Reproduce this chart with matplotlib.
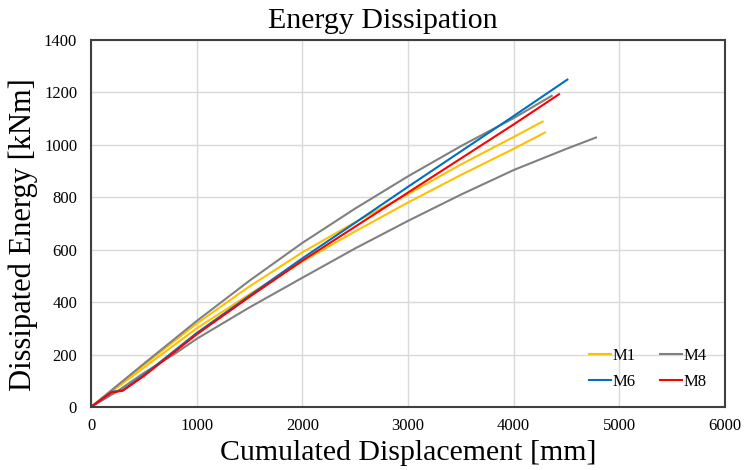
import matplotlib
matplotlib.use("Agg")
import matplotlib.pyplot as plt

# cumulated displacement [mm] and dissipated energy [kNm], two runs for M1 and M4
m1a_x = [0, 250, 500, 1000, 1500, 2000, 2500, 3000, 3500, 4000, 4274]
m1a_e = [0, 80, 160, 318, 460, 590, 705, 812, 925, 1030, 1089]
m1b_x = [0, 250, 500, 1000, 1500, 2000, 2500, 3000, 3500, 4000, 4296]
m1b_e = [0, 75, 150, 300, 430, 555, 670, 780, 885, 985, 1047]

m4a_x = [0, 500, 1000, 1500, 2000, 2500, 3000, 3500, 4000, 4360]
m4a_e = [0, 165, 328, 482, 626, 757, 880, 995, 1102, 1187]
m4b_x = [0, 250, 500, 800, 1000, 1500, 2000, 2500, 3000, 3500, 4000, 4500, 4779]
m4b_e = [0, 60, 130, 205, 260, 380, 493, 605, 710, 810, 904, 985, 1028]

m6_x = [0, 200, 300, 500, 1000, 1500, 2000, 2500, 3000, 3500, 4000, 4508]
m6_e = [0, 58, 64, 122, 282, 425, 567, 703, 840, 975, 1110, 1249]

m8_x = [0, 190, 300, 500, 1000, 1500, 2000, 2500, 3000, 3500, 4000, 4429]
m8_e = [0, 55, 62, 118, 277, 420, 558, 688, 818, 948, 1078, 1193]

x_ticks = [0, 1000, 2000, 3000, 4000, 5000, 6000]
y_ticks = [0, 200, 400, 600, 800, 1000, 1200, 1400]

plt.rcParams['font.family'] = ['Liberation Serif', 'DejaVu Serif']

fig = plt.figure(figsize=(7.45, 4.70), dpi=100)
ax = fig.add_axes([91 / 745, 1 - 407 / 470, 634 / 745, 367 / 470])

lw = 1.5
l1, = ax.plot(m1a_x, m1a_e, color='#FFC000', lw=lw, label='M1')
ax.plot(m1b_x, m1b_e, color='#FFC000', lw=lw)
l4, = ax.plot(m4a_x, m4a_e, color='#808080', lw=lw, label='M4')
ax.plot(m4b_x, m4b_e, color='#808080', lw=lw)
l6, = ax.plot(m6_x, m6_e, color='#0070C0', lw=lw, label='M6')
l8, = ax.plot(m8_x, m8_e, color='#FF0000', lw=lw, label='M8')

ax.set_xlim(0, 6000)
ax.set_ylim(0, 1400)
ax.set_xticks(x_ticks)
ax.set_yticks(y_ticks)
ax.tick_params(length=0, labelsize=12)
ax.tick_params(axis='y', pad=10)
ax.tick_params(axis='x', pad=8)
ax.grid(True, color='#d9d9d9', lw=1)
ax.set_axisbelow(True)
for s in ax.spines.values():
    s.set_color('#404040')
    s.set_linewidth(1.5)

# chart title sits a bit left of the plot-area centre
fig.text(383 / 745, 1 - 28 / 470, 'Energy Dissipation', fontsize=21.5,
         ha='center', va='baseline')
ax.set_xlabel('Cumulated Displacement [mm]', fontsize=21.5, labelpad=4)
ax.set_ylabel('Dissipated Energy [kNm]', fontsize=22)
ax.yaxis.set_label_coords(-0.084, 0.47)

# legend laid out row-wise: M1 M4 / M6 M8
ax.legend([l1, l6, l4, l8], ['M1', 'M6', 'M4', 'M8'], ncol=2, frameon=False,
          loc='lower right', bbox_to_anchor=(0.995, 0.005), fontsize=12,
          handlelength=1.3, handletextpad=0.1, columnspacing=1.5, labelspacing=0.6)

fig.savefig('out.png', dpi=100)
